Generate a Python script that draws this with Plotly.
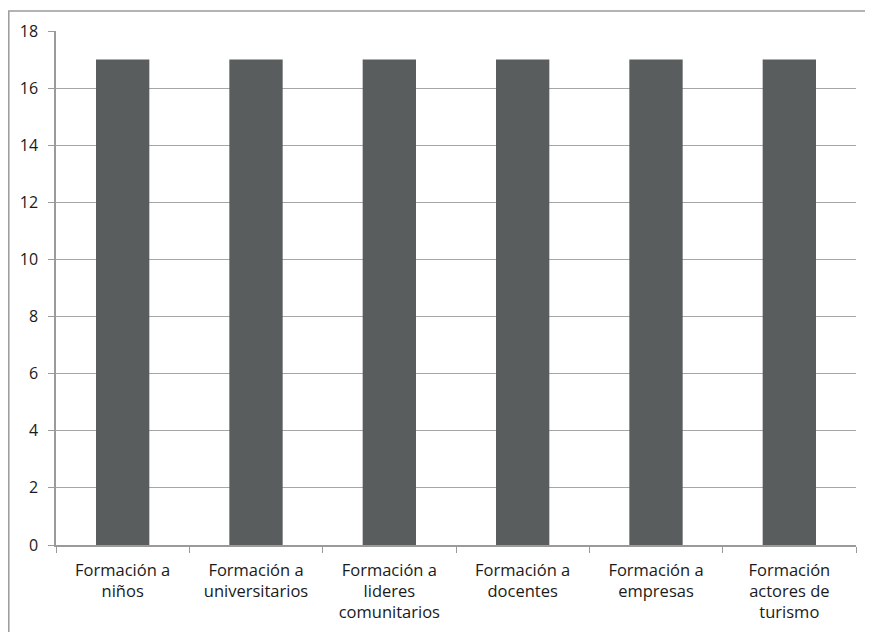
import plotly.graph_objects as go

categories = ["Formación a<br>niños", "Formación a<br>universitarios", "Formación a<br>lideres<br>comunitarios",
              "Formación a<br>docentes", "Formación a<br>empresas", "Formación<br>actores de<br>turismo"]
values = [17, 17, 17, 17, 17, 17]
y_ticks = [0, 2, 4, 6, 8, 10, 12, 14, 16, 18]

fig = go.Figure(go.Bar(x=categories, y=values, marker=dict(color="#595d5e", line=dict(width=0))))

xfont = dict(family="'Open Sans', sans-serif", size=16.5, color="#1a1a1a")
yfont = dict(family="'Open Sans', sans-serif", size=16, color="#1a1a1a")
fig.update_layout(
    width=873, height=632,
    margin=dict(l=48, r=25, t=21, b=95),
    paper_bgcolor="white", plot_bgcolor="white",
    bargap=0.6, showlegend=False,
    font=xfont,
    xaxis=dict(type="category", showline=True, linecolor="#9a9a9a", linewidth=1.5,
               ticks="outside", tickson="boundaries", ticklen=6, tickcolor="#9a9a9a",
               showgrid=False, tickfont=xfont, tickangle=0, ticklabelstandoff=9),
    yaxis=dict(range=[0, 18], tickvals=y_ticks, showline=True, linecolor="#9a9a9a", linewidth=1.5,
               ticks="outside", ticklen=6, tickcolor="#9a9a9a", gridcolor="#a6a6a6", gridwidth=1.2,
               zeroline=False, tickfont=yfont, ticklabelstandoff=7),
    shapes=[dict(type="rect", xref="paper", yref="paper", x0=-0.059, x1=1.1, y0=-0.3, y1=1.039,
                 line=dict(color="#9a9a9a", width=1.5), fillcolor="rgba(0,0,0,0)", layer="below")],
)
fig.write_html("out.html")
